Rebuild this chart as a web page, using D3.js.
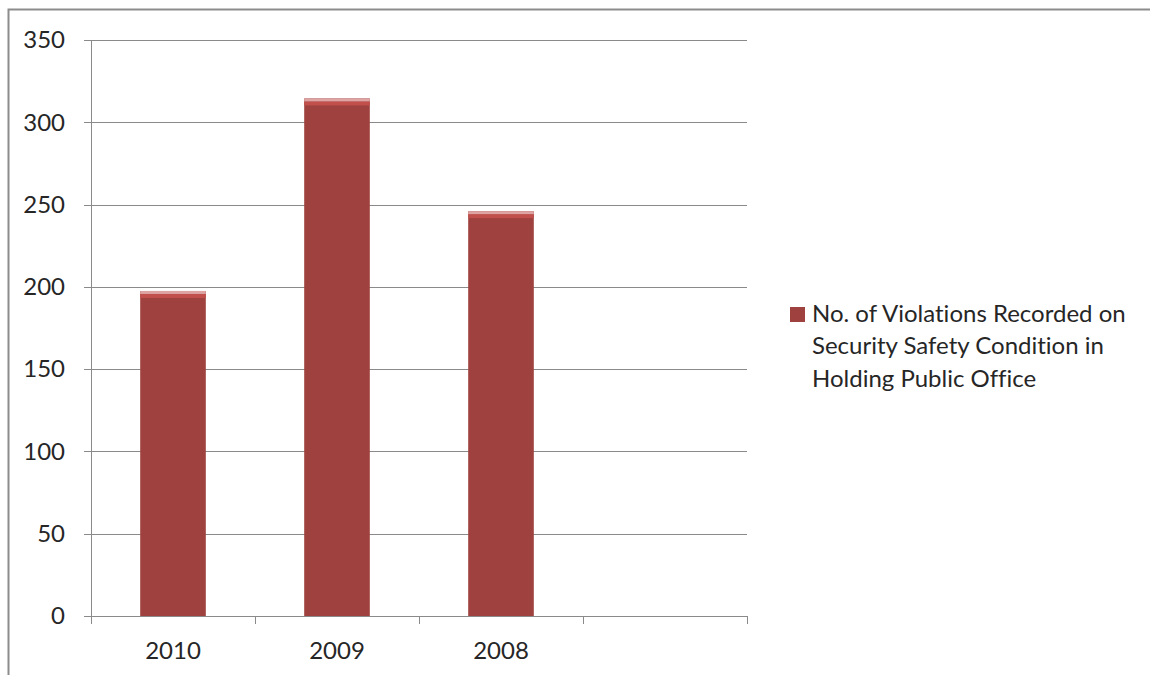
<!DOCTYPE html>
<html><head><meta charset="utf-8">
<script src="https://cdn.jsdelivr.net/npm/d3@7"></script>
<style>body{margin:0;background:#fff}svg{display:block}text{font-variant-ligatures:none;font-feature-settings:"liga" 0}</style>
</head><body>
<svg id="c" width="1150" height="675"></svg>
<script>
const categories = ["2010", "2009", "2008", ""];
const values = [197.5, 314.5, 246, null];
const yTicks = [0, 50, 100, 150, 200, 250, 300, 350];
const legendLines = ["No. of Violations Recorded on", "Security Safety Condition in", "Holding Public Office"];

const svg = d3.select("#c");
const font = "Lato, 'Open Sans', sans-serif";
const fs = 24;
const L = 91, R = 747, T = 40, B = 616;

// outer frame
svg.append("path").attr("d", "M8.5,675 V9.5 H1150").attr("fill", "none").attr("stroke", "#8c8c8c").attr("stroke-width", 2);

const x = d3.scaleBand().domain(categories.map((c, i) => i)).range([L, R]).paddingInner(0.6).paddingOuter(0.3);
const xb = d3.scaleBand().domain(categories.map((c, i) => i)).range([L, R]);
const y = d3.scaleLinear().domain([0, 350]).range([B, T]);

// gridlines
svg.append("g").selectAll("line").data(yTicks).join("line")
  .attr("x1", L - 7).attr("x2", R).attr("y1", d => Math.round(y(d)) + 0.5).attr("y2", d => Math.round(y(d)) + 0.5)
  .attr("stroke", "#8a8a8a").attr("stroke-width", 1);

// y labels
svg.append("g").selectAll("text").data(yTicks).join("text")
  .attr("x", 65).attr("y", d => y(d) + 8.3).attr("text-anchor", "end")
  .attr("font-family", font).attr("font-size", fs).attr("fill", "#262626").text(d => d);

// axis lines
svg.append("line").attr("x1", L + 0.5).attr("x2", L + 0.5).attr("y1", T).attr("y2", B).attr("stroke", "#8a8a8a");
const xTickPos = categories.map((c, i) => xb(i)).concat([R]);
svg.append("g").selectAll("line").data(xTickPos).join("line")
  .attr("x1", d => Math.round(d) + 0.5).attr("x2", d => Math.round(d) + 0.5).attr("y1", B).attr("y2", B + 8)
  .attr("stroke", "#8a8a8a");

const data = categories.map((c, i) => ({c, i, v: values[i]})).filter(d => d.v != null);

const bars = svg.append("g").selectAll("g").data(data).join("g");
bars.append("rect").attr("x", d => x(d.i)).attr("width", x.bandwidth())
  .attr("y", d => y(d.v)).attr("height", d => B - y(d.v)).attr("fill", "#9e413f");
bars.append("rect").attr("x", d => x(d.i)).attr("width", x.bandwidth())
  .attr("y", d => y(d.v) + 3).attr("height", 4).attr("fill", "#c1504d");
bars.append("rect").attr("x", d => x(d.i)).attr("width", x.bandwidth())
  .attr("y", d => y(d.v)).attr("height", 3).attr("fill", "#dda4a3");

// x labels
svg.append("g").selectAll("text").data(categories.map((c, i) => ({c, i}))).join("text")
  .attr("x", d => xb(d.i) + xb.bandwidth() / 2).attr("y", 659).attr("text-anchor", "middle")
  .attr("font-family", font).attr("font-size", fs).attr("fill", "#262626").text(d => d.c);

// legend
svg.append("rect").attr("x", 790).attr("y", 307).attr("width", 15).attr("height", 15).attr("fill", "#9e413f");
svg.append("g").selectAll("text").data(legendLines).join("text")
  .attr("x", 812).attr("y", (d, i) => 321.5 + i * 32.5)
  .attr("font-family", font).attr("font-size", fs).attr("fill", "#262626").text(d => d);
</script>
</body></html>
